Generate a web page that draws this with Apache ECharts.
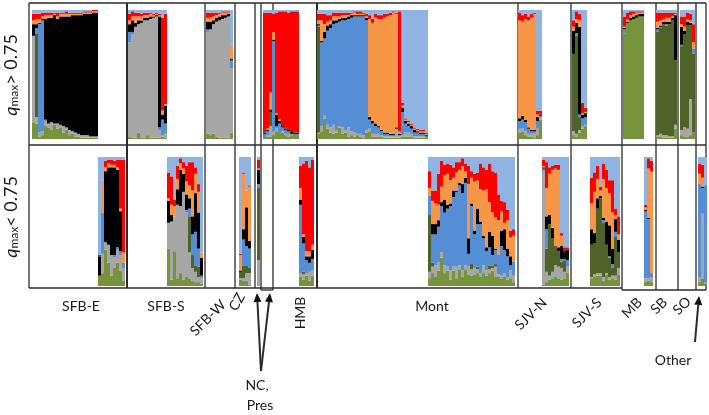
<!DOCTYPE html>
<html><head><meta charset="utf-8">
<style>html,body{margin:0;padding:0;background:#fff}#c{width:709px;height:415px}</style>
<script src="https://cdn.jsdelivr.net/npm/echarts@6/dist/echarts.min.js"></script>
</head><body><div id="c"></div>
<script>
// Each column: membership % per cluster, bottom to top:
// olive, gray, dark green, blue, black, orange, red (light blue fills to 100)
const clusters=['olive','gray','darkGreen','blue','black','orange','red','lightBlue'];
const clusterColors=['#77933C','#A6A6A6','#4F6228','#558ED5','#000000','#F79646','#FF0000','#8FB4E3'];
const columnCount=226;

const sfbE_high=[[13,67,0,0,9,3,5],[12,5,65,4,3,4,4],[2,3,0,84,1,3,4],[3,3,0,86,1,2,3],[10,4,0,1,78,3,2],[9,3,0,0,82,2,2],[7,6,0,0,81,2,2],[11,1,0,0,84,1,1],[8,4,0,0,81,2,3],[9,2,0,0,84,2,1],[5,5,0,0,85,2,1],[7,2,0,0,86,2,2],[3,4,0,0,88,2,1],[4,2,0,0,90,1,1],[2,3,0,0,91,1,1],[2,2,0,0,92,1,1],[1,2,0,0,93,1,1],[1,2,0,0,94,1,1],[1,2,0,0,94,1,1],[1,1,0,0,95,1,1],[1,1,0,0,96,1,1],[1,1,0,0,96,1,1]];
const sfbE_low=[[8,0,0,0,15,0,1],[10,15,0,32,0,25,0],[28,6,0,0,55,3,5],[18,14,0,0,60,3,3],[8,16,0,0,68,2,4],[14,8,0,2,68,2,3],[18,10,0,2,60,2,6],[12,12,0,3,31,2,38],[4,10,0,4,0,8,72]];
const sfbS_high=[[2,73,0,8,6,3,5],[1,80,0,2,9,3,4],[1,86,0,0,3,5,3],[5,84,0,0,3,3,3],[1,89,0,0,2,3,2],[1,91,0,0,2,2,2],[3,89,0,0,2,2,2],[1,92,0,0,2,2,1],[1,93,0,0,1,1,1],[1,94,0,0,1,1,1],[1,6,0,2,86,1,1],[2,1,0,12,4,3,72],[1,3,0,8,14,1,70]];
const sfbS_low=[[29,20,0,0,17,2,20],[5,45,0,0,5,8,22],[27,27,0,0,0,8,5],[6,57,0,0,12,8,10],[10,52,0,0,28,5,4],[5,68,0,0,14,4,5],[7,50,0,2,12,10,12],[6,20,28,6,8,10,18],[4,10,10,16,14,20,22],[3,8,5,26,30,15,5],[3,4,8,14,28,16,6],[2,4,0,2,14,4,0]];
const sfbW_high=[[4,79,0,2,6,3,4],[3,82,0,0,6,3,4],[4,85,0,0,3,3,3],[2,89,0,0,3,2,2],[1,91,0,0,3,2,1],[1,92,0,0,3,2,1],[1,93,0,0,2,2,1],[1,94,0,0,2,1,1],[5,50,0,6,1,11,0]];
const cz_low=[[5,1,5,0,1,12,1],[4,2,10,20,8,43,1],[4,6,6,15,30,13,0],[1,9,4,15,6,42,1]];
const nc_low=[[0,20,56,3,11,1,7]];
const pres_high=[[0,0,0,4,1,0,93],[2,1,0,3,1,1,90],[2,8,11,0,2,13,62]];
const hmb_high=[[3,3,0,70,1,6,14],[6,2,0,2,9,1,78],[5,0,1,6,2,1,84],[5,1,0,3,1,0,89],[3,1,0,3,1,0,91],[2,2,0,2,1,0,91],[3,1,0,0,2,0,93],[4,0,0,0,1,0,94],[3,0,0,1,1,0,94]];
const hmb_low=[[7,3,0,53,4,9,17],[5,4,2,22,5,2,55],[8,2,0,10,3,4,70],[4,7,0,7,5,4,65],[8,4,0,9,7,4,66]];
const mont_high=[[4,1,82,1,1,3,5],[6,4,0,65,1,16,5],[16,2,0,60,5,6,8],[8,3,0,73,4,3,5],[5,4,0,77,3,3,4],[4,7,0,78,3,3,3],[5,2,0,83,2,3,3],[9,1,0,81,2,2,3],[4,5,0,83,2,2,2],[5,2,0,85,2,2,2],[2,7,0,84,2,1,2],[3,3,0,88,2,1,1],[2,3,0,90,1,2,1],[3,1,0,91,1,1,2],[2,2,0,91,1,1,2],[1,2,0,92,1,1,1],[5,2,0,85,2,1,2],[6,2,0,7,2,76,3],[2,2,0,8,2,76,3],[2,2,0,6,2,82,3],[2,2,0,5,1,83,3],[2,1,0,3,1,86,3],[1,1,0,2,1,89,3],[1,1,0,2,1,90,2],[1,1,0,1,1,92,2],[1,1,0,1,1,94,1],[1,7,0,0,1,88,1],[1,1,0,1,1,2,93],[2,1,0,18,3,2,2],[2,3,0,7,2,1,1],[2,3,0,5,2,1,1],[2,2,0,4,2,1,1],[1,1,0,3,2,1,1],[1,1,0,3,1,1,1],[1,1,0,2,1,1,1],[1,1,0,2,1,1,1],[1,0,0,1,1,1,1]];
const mont_low=[[6,5,44,15,0,6,13],[10,5,3,22,8,18,8],[7,9,0,24,8,16,10],[12,6,0,28,5,12,24],[22,4,0,36,3,12,20],[10,6,0,41,10,19,8],[12,3,0,45,3,24,8],[5,7,0,50,2,18,12],[12,3,0,54,5,10,8],[6,9,0,58,1,14,8],[13,3,0,62,2,10,6],[7,5,0,60,7,14,6],[13,3,0,64,4,5,6],[9,6,0,10,12,42,14],[8,5,4,45,2,20,5],[9,5,0,26,3,38,6],[10,3,2,33,12,22,6],[7,3,0,38,2,25,20],[10,6,0,21,2,35,18],[8,4,0,15,3,45,15],[10,3,3,14,12,23,30],[12,2,2,8,15,18,32],[7,8,2,11,1,24,35],[7,2,0,15,0,27,20],[6,2,0,23,12,15,8],[7,3,0,18,16,5,16],[5,2,0,16,6,22,8],[6,6,0,4,7,15,5],[3,5,0,11,0,20,5]];
const sjvN_high=[[5,3,0,6,2,76,6],[6,2,0,7,3,73,5],[3,3,0,7,2,78,4],[2,2,0,4,1,83,3],[2,2,0,2,1,87,3],[1,3,0,2,1,90,1],[3,5,0,6,3,2,3],[15,2,0,1,1,0,3]];
const sjvN_low=[[1,88,0,2,1,1,5],[3,8,18,15,10,22,20],[5,3,40,0,7,32,5],[6,5,26,0,8,45,3],[7,9,15,0,0,60,3],[6,9,12,0,3,60,4],[5,9,5,2,10,8,2],[6,5,9,1,6,0,3],[10,5,0,5,8,0,2]];
const sjvS_high=[[3,3,60,0,18,3,5],[2,2,76,2,8,3,6],[5,2,10,2,68,5,5],[8,2,0,6,3,1,8],[10,1,0,6,3,1,3]];
const sjvS_low=[[6,1,25,0,12,20,20],[7,2,24,0,8,32,15],[8,2,50,0,8,15,10],[8,2,58,0,2,4,3],[4,3,42,2,2,30,12],[9,1,22,0,18,26,14],[5,2,15,1,24,25,10],[6,2,6,3,12,28,25],[5,3,30,4,10,3,5],[9,5,12,0,10,4,14]];
const mb_high=[[82,0,0,3,1,1,8],[90,0,0,0,1,2,5],[92,0,0,0,2,2,3],[93,0,0,0,2,2,2],[94,0,0,0,2,2,1],[95,0,0,0,2,1,1],[95,0,0,0,2,1,1]];
const mb_low=[[3,3,0,52,1,2,2],[4,2,0,46,1,38,8],[3,4,0,3,0,79,8]];
const sb_high=[[2,1,80,2,1,5,7],[2,2,82,1,1,4,6],[1,2,86,0,2,2,5],[1,2,85,1,2,3,4],[1,1,87,0,2,3,4],[1,1,90,0,2,1,3],[8,3,50,0,35,1,1]];
const so_high=[[3,4,65,1,14,2,6],[2,7,72,0,3,3,8],[2,6,80,0,3,2,5],[3,28,57,0,2,2,5],[5,0,61,4,0,5,14]];
const other_low=[[3,4,0,72,0,8,8],[6,50,0,20,1,7,10],[2,1,0,75,0,0,0]];

// first column of each population block
const highBlocks=[[1,sfbE_high],[33,sfbS_high],[59,sfbW_high],[78,pres_high],[81,hmb_high],[96,mont_high],[163,sjvN_high],[181,sjvS_high],[198,mb_high],[209,sb_high],[217,so_high]];
const lowBlocks=[[23,sfbE_low],[46,sfbS_low],[70,cz_low],[76,nc_low],[90,hmb_low],[133,mont_low],[171,sjvN_low],[187,sjvS_low],[205,mb_low],[223,other_low]];

const populationLabels=[['SFB-E',81,306,0],['SFB-S',166,306,0],['SFB-W',208,318,45],['CZ',237,302,60],['HMB',300,313,90],['Mont',432,306,0],['SJV-N',531,314,45],['SJV-S',587,313,45],['MB',632,308,45],['SB',659,306,45],['SO',682,306,45],['Other',673,360,0],['NC,',257,385,0],['Pres',260,405,0]];

function matrix(blocks){
  const m=clusters.map(()=>new Array(columnCount).fill(0));
  blocks.forEach(([start,cols])=>cols.forEach((c,i)=>{
    c.forEach((v,k)=>{m[k][start+i]=v;});
    m[7][start+i]=Math.max(0,100-c.reduce((a,b)=>a+b,0));
  }));
  return m;
}
const high=matrix(highBlocks), low=matrix(lowBlocks);
const cats=Array.from({length:columnCount},(_,i)=>String(i));
function series(m,idx,stack){
  return clusters.map((n,k)=>({name:n,type:'bar',stack,xAxisIndex:idx,yAxisIndex:idx,barWidth:'100%',data:m[k],
    itemStyle:{color:clusterColors[k]},animation:false,silent:true}));
}
const L=(x1,y1,x2,y2,w)=>({type:'line',silent:true,shape:{x1,y1,x2,y2},style:{stroke:'#2b2b2b',lineWidth:w||1.3}});
const frames=[
  L(29,3,706,3),L(29,145,706,145),L(29,288,622,288),L(29,3,29,288),L(706,3,706,290),
  L(127,3,127,288,2),L(205,3,205,288),L(235,3,235,288),L(255,3,255,288),L(261,3,261,290),L(273,3,273,290),L(261,290,273,290),
  L(317,3,317,288,2),L(518,3,518,288),L(571,3,571,288),L(622,3,622,290),L(656,3,656,290),L(678,3,678,290),L(696,3,696,290),L(622,290,706,290)
];
function arrow(x1,y1,x2,y2){
  const a=Math.atan2(y2-y1,x2-x1),s=9,h=4;
  const bx=x2-s*Math.cos(a),by=y2-s*Math.sin(a),nx=-Math.sin(a)*h,ny=Math.cos(a)*h;
  return [L(x1,y1,bx,by,2),{type:'polygon',silent:true,shape:{points:[[x2,y2],[bx+nx,by+ny],[bx-nx,by-ny]]},style:{fill:'#111'}}];
}
const texts=populationLabels.map(([t,x,y,r])=>({type:'text',silent:true,x,y,rotation:r*Math.PI/180,
  style:{text:t,font:'14px Lato, "Open Sans", sans-serif',fill:'#1a1a1a',align:'center',verticalAlign:'middle'}}));
function qLabel(sign,y){
  return {type:'text',silent:true,x:11,y,rotation:Math.PI/2,
    style:{text:'{q|q}{s|max}{t|'+sign+' 0.75}',align:'center',verticalAlign:'middle',fill:'#1a1a1a',
      rich:{q:{font:'italic 18px Lato, sans-serif',fill:'#1a1a1a'},s:{font:'12px Lato, sans-serif',fill:'#1a1a1a',verticalAlign:'bottom',padding:[6,0,0,0]},t:{font:'18px Lato, sans-serif',fill:'#1a1a1a'}}}};
}
const axisOff={type:'category',data:cats,show:false,boundaryGap:true};
const chart=echarts.init(document.getElementById('c'),null,{renderer:'canvas'});
chart.setOption({
  animation:false,backgroundColor:'#fff',
  grid:[{left:29,top:10,width:678,height:129},{left:29,top:157,width:678,height:129}],
  xAxis:[{...axisOff,gridIndex:0},{...axisOff,gridIndex:1}],
  yAxis:[{type:'value',min:0,max:100,show:false,gridIndex:0},{type:'value',min:0,max:100,show:false,gridIndex:1}],
  series:[...series(high,0,'high'),...series(low,1,'low')],
  graphic:{elements:[...frames,...arrow(261,371,257,293),...arrow(261,371,270,293),...arrow(695,342,699,296),...texts,qLabel('>',75),qLabel('<',217)]}
});
</script></body></html>
